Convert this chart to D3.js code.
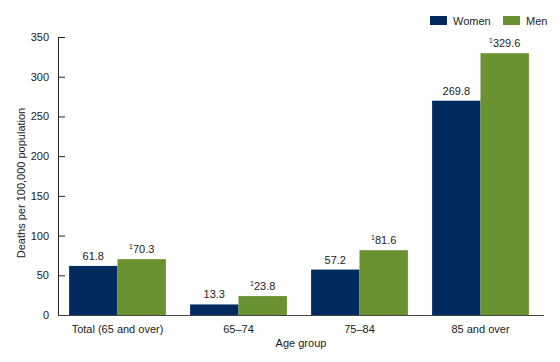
<!DOCTYPE html>
<html><head><meta charset="utf-8">
<script src="https://cdn.jsdelivr.net/npm/d3@7"></script>
<style>body{margin:0;background:#fff}svg{display:block;font-family:"Liberation Sans",Arial,sans-serif}</style>
</head><body><svg id="c" width="560" height="362"></svg>
<script>
const categories = ["Total (65 and over)", "65–74", "75–84", "85 and over"];
const women = [61.8, 13.3, 57.2, 269.8];
const men = [70.3, 23.8, 81.6, 329.6];
const menFootnote = ["1", "1", "1", "1"];
const yTicks = [0, 50, 100, 150, 200, 250, 300, 350];
const seriesNames = ["Women", "Men"];
const colors = ["#002a60", "#6b9231"];

const svg = d3.select("#c");
const x = d3.scaleBand().domain(categories).range([57, 541]).paddingInner(0.2).paddingOuter(0.1);
const xs = d3.scaleBand().domain(seriesNames).range([0, x.bandwidth()]);
const y = d3.scaleLinear().domain([0, 350]).range([315, 37]);

// y axis
const ya = svg.append("g").attr("transform", "translate(58,0)")
  .call(d3.axisRight(y).tickValues(yTicks).tickSize(7).tickFormat(d3.format("d")));
ya.select(".domain").attr("stroke", "#222").attr("d", "M0.5,37V315");
ya.selectAll(".tick line").attr("stroke", "#222");
ya.selectAll(".tick text").attr("x", -9).attr("text-anchor", "end").attr("font-size", 11).attr("fill", "#222").attr("font-family", "Liberation Sans, Arial, sans-serif");

// bars
const data = categories.map((c, i) => ({c, vals: [women[i], men[i]]}));
const g = svg.append("g");
data.forEach((d, i) => {
  d.vals.forEach((v, j) => {
    const bx = x(d.c) + xs(seriesNames[j]);
    g.append("rect").attr("x", bx).attr("y", y(v)).attr("width", xs.bandwidth()).attr("height", y(0) - y(v)).attr("fill", colors[j]);
    const t = g.append("text").attr("x", bx + xs.bandwidth() / 2).attr("y", y(v) - 6)
      .attr("text-anchor", "middle").attr("font-size", 11).attr("fill", "#222");
    if (j === 1) {
      t.append("tspan").attr("font-size", 7).attr("dy", -4).text(menFootnote[i]);
      t.append("tspan").attr("dy", 4).text(v.toFixed(1));
    } else {
      t.text(v.toFixed(1));
    }
  });
});

// x axis
const xa = svg.append("g").attr("transform", "translate(0,315)")
  .call(d3.axisBottom(x).tickSize(0).tickPadding(10));
xa.select(".domain").attr("stroke", "#444").attr("stroke-width", 1.2).attr("d", "M58,0.5H544");
xa.selectAll(".tick text").attr("font-size", 11).attr("fill", "#222").attr("font-family", "Liberation Sans, Arial, sans-serif").attr("dy", "0.71em");

// axis titles
svg.append("text").attr("x", 301).attr("y", 347).attr("text-anchor", "middle").attr("font-size", 11).attr("fill", "#222").text("Age group");
svg.append("text").attr("transform", "translate(25,183) rotate(-90)").attr("text-anchor", "middle").attr("font-size", 11).attr("fill", "#222").text("Deaths per 100,000 population");

// legend
const legX = [430, 503];
seriesNames.forEach((s, j) => {
  svg.append("rect").attr("x", legX[j]).attr("y", 16).attr("width", 17).attr("height", 9).attr("fill", colors[j]);
  svg.append("text").attr("x", legX[j] + 23).attr("y", 25).attr("font-size", 11).attr("fill", "#222").text(s);
});
</script></body></html>
